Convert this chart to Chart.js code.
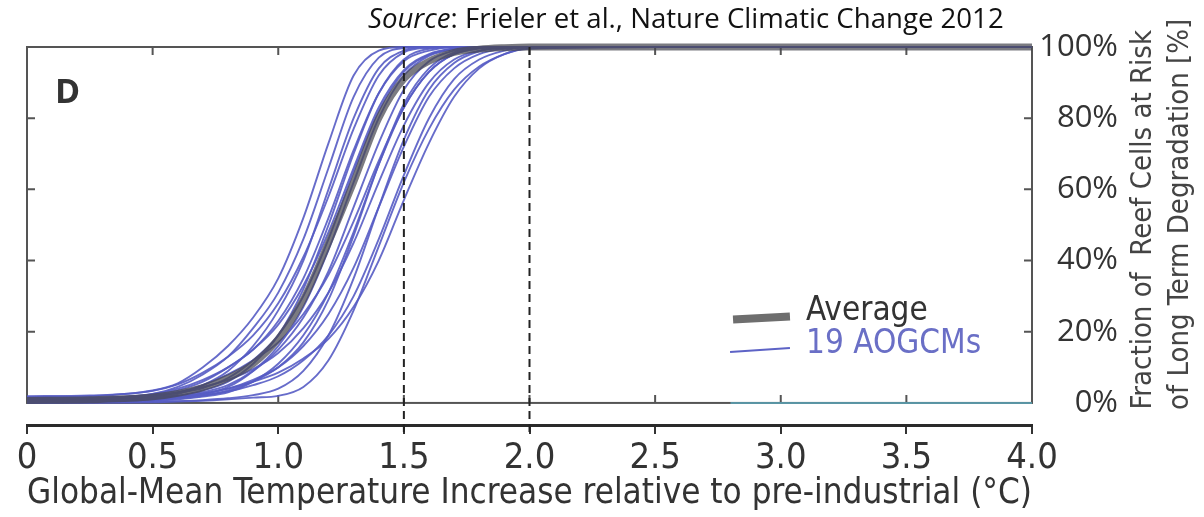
<!DOCTYPE html>
<html>
<head>
<meta charset="utf-8">
<script src="https://cdn.jsdelivr.net/npm/chart.js@4.4.1/dist/chart.umd.min.js"></script>
<style>
  body { margin: 0; background: #fff; }
  #wrap { position: relative; width: 1204px; height: 517px; overflow: hidden; }
  canvas { position: absolute; left: 0; top: 0; }
  .txt { position: absolute; white-space: nowrap; }
  #source { left: 368px; top: 0px; font: 27.6px "Open Sans", sans-serif; color: #111; line-height: 34px; }
  #panel { left: 55px; top: 67px; font: bold 34px "Open Sans", sans-serif; color: #333; }
  #ytitle { left: 970px; top: 183px; width: 380px; height: 74px; transform: rotate(-90deg);
            text-align: right; font: 29px "DejaVu Sans Condensed", sans-serif;
            color: #444; line-height: 37px; }
  #legAvgText { left: 806px; top: 291px; font: 33px "DejaVu Sans Condensed", sans-serif; color: #333; line-height: 36px; }
  #legGcmText { left: 806px; top: 324px; font: 33px "DejaVu Sans Condensed", sans-serif; color: #6a6fc6; line-height: 36px; }
  .swatch { position: absolute; }
  #legAvgLine { left: 733px; top: 314px; width: 57px; height: 8px; background: #6e6e6e; transform: rotate(-3deg); }
  #legGcmLine { left: 730px; top: 349px; width: 60px; height: 2px; background: #5d63c6; transform: rotate(-4deg); }
</style>
</head>
<body>
<div id="wrap">
  <canvas id="chart" width="1204" height="517"></canvas>
  <div class="txt" id="source"><i>Source</i>: Frieler et al., Nature Climatic Change 2012</div>
  <div class="txt" id="panel">D</div>
  <div class="txt" id="ytitle">Fraction of&nbsp; Reef Cells at Risk<br>of Long Term Degradation [%]</div>
  <div class="swatch" id="legAvgLine"></div>
  <div class="swatch" id="legGcmLine"></div>
  <div class="txt" id="legAvgText">Average</div>
  <div class="txt" id="legGcmText">19 AOGCMs</div>
</div>
<script>
// temperature grid (deg C) the curves are sampled on
var xTemps = [0, 0.25, 0.5, 0.6, 0.7, 0.8, 0.9, 1.0, 1.1, 1.2, 1.3, 1.4, 1.5, 1.6, 1.7, 1.8, 1.9, 2.0, 2.5, 3.0, 4.0];

// fraction of reef cells at risk (%), one array per AOGCM
var gcm01 = [1.6, 1.9, 3.5, 5.5, 10, 16, 24, 35, 52, 73, 92, 99, 100, 100, 100, 100, 100, 100, 100, 100, 100];
var gcm02 = [0.5, 1, 2.5, 4.5, 8, 13, 21, 31, 46, 66, 86, 97, 99.7, 100, 100, 100, 100, 100, 100, 100, 100];
var gcm03 = [1.9, 2.1, 3.4, 5.2, 8.5, 13, 19, 28, 41, 58, 77, 92, 98.5, 99.8, 100, 100, 100, 100, 100, 100, 100];
var gcm04 = [0.3, 0.6, 1.5, 2.5, 5, 9, 16, 26, 40, 60, 80, 94, 99, 100, 100, 100, 100, 100, 100, 100, 100];
var gcm05 = [1.2, 1.4, 2.3, 3.6, 6, 10, 15, 23, 35, 52, 71, 87, 96, 99, 100, 100, 100, 100, 100, 100, 100];
var gcm06 = [0.2, 0.4, 1.2, 2, 3.5, 6, 11, 19, 32, 50, 70, 87, 96.5, 99.5, 100, 100, 100, 100, 100, 100, 100];
var gcm07 = [0.8, 1.1, 2.5, 4, 6.5, 10, 15, 22, 33, 48, 66, 83, 93.5, 98, 99.6, 100, 100, 100, 100, 100, 100];
var gcm08 = [1.4, 1.5, 2, 2.8, 4.2, 7, 12, 19, 30, 46, 65, 82, 93, 97.8, 99.5, 100, 100, 100, 100, 100, 100];
var gcm09 = [0.1, 0.3, 0.8, 1.5, 2.5, 4.5, 9, 16, 27, 43, 62, 80, 92, 97.5, 99.4, 100, 100, 100, 100, 100, 100];
var gcm10 = [0.5, 0.8, 1.8, 3, 5, 8, 12, 17, 25, 36, 51, 68, 83, 93, 98, 99.6, 100, 100, 100, 100, 100];
var gcm11 = [0.9, 1, 1.4, 2, 3, 5, 9, 15, 24, 37, 55, 73, 88, 96, 99, 100, 100, 100, 100, 100, 100];
var gcm12 = [0.7, 1, 2, 3, 4.5, 6.5, 9.5, 14, 21, 31, 45, 62, 78, 90, 96.5, 99, 99.8, 100, 100, 100, 100];
var gcm13 = [0.1, 0.2, 0.6, 1, 1.8, 3, 6, 11, 19, 31, 48, 67, 83, 93, 98, 99.6, 100, 100, 100, 100, 100];
var gcm14 = [0.3, 0.5, 1, 1.6, 2.5, 4, 6.5, 10, 16, 25, 38, 55, 72, 86, 94, 98, 99.5, 100, 100, 100, 100];
var gcm15 = [0, 0.1, 0.3, 0.5, 0.8, 1.3, 2.2, 4, 9, 19, 35, 55, 74, 88, 95.5, 98.8, 99.8, 100, 100, 100, 100];
var gcm16 = [1.1, 1.1, 1.3, 1.6, 2.2, 3.2, 5, 7.5, 12, 19, 30, 46, 64, 80, 91, 96.5, 99, 100, 100, 100, 100];
var gcm17 = [0, 0.1, 0.2, 0.4, 0.6, 1, 1.5, 2, 4.5, 12, 26, 44, 62, 77, 88, 94.5, 98, 99.7, 100, 100, 100];
var gcm18 = [0.4, 0.6, 1.2, 1.8, 2.7, 4, 6, 8.5, 12.5, 18, 27, 40, 57, 73, 86, 94, 98, 99.5, 100, 100, 100];
var gcm19 = [0.1, 0.3, 0.7, 1.2, 2, 3.5, 6, 10, 17, 29, 47, 67, 84, 94, 98.5, 99.7, 100, 100, 100, 100, 100];
var average = [0.7, 0.9, 1.7, 2.7, 4.3, 7, 11, 18, 29, 45, 62, 80, 91, 96, 98.5, 99.4, 99.8, 100, 100, 100, 100];

// the thin line lying on the 0% edge at the right
var baseX = [2.8, 4.0];
var baseY = [0, 0];

var xTickVals = [0, 0.5, 1.0, 1.5, 2.0, 2.5, 3.0, 3.5, 4.0];
var yTickVals = [0, 20, 40, 60, 80, 100];
var refLines = [1.5, 2.0];

var gcms = [gcm01, gcm02, gcm03, gcm04, gcm05, gcm06, gcm07, gcm08, gcm09, gcm10,
            gcm11, gcm12, gcm13, gcm14, gcm15, gcm16, gcm17, gcm18, gcm19];

function pts(xs, ys) {
  return xs.map(function (x, i) { return { x: x, y: ys[i] }; });
}

var narrow = "'DejaVu Sans Condensed', sans-serif";

var datasets = gcms.map(function (g, i) {
  return {
    label: "AOGCM " + (i + 1),
    data: pts(xTemps, g),
    borderColor: "rgba(86, 92, 196, 0.9)",
    borderWidth: 1.9,
    order: 1
  };
});
datasets.push({
  label: "Average",
  data: pts(xTemps, average),
  borderColor: "rgba(72, 72, 80, 0.72)",
  borderWidth: 7,
  order: 0
});
datasets.push({
  label: "base",
  data: pts(baseX, baseY),
  borderColor: "#5aa8bc",
  borderWidth: 1.5,
  cubicInterpolationMode: "default",
  tension: 0,
  order: 2
});

// box round the plot with inward ticks, plus the dashed 1.5 / 2.0 lines
var frame = {
  id: "frame",
  beforeDatasetsDraw: function (chart) {
    var ctx = chart.ctx, x = chart.scales.x, y = chart.scales.y;
    var l = x.getPixelForValue(0), r = x.getPixelForValue(4);
    var t = y.getPixelForValue(100), b = y.getPixelForValue(0);
    ctx.save();
    ctx.strokeStyle = "#555";
    ctx.lineWidth = 2;
    ctx.strokeRect(l, t, r - l, b - t);
    ctx.beginPath();
    xTickVals.slice(1, -1).forEach(function (v) {
      var px = x.getPixelForValue(v);
      ctx.moveTo(px, t); ctx.lineTo(px, t + 8);
      ctx.moveTo(px, b); ctx.lineTo(px, b - 8);
    });
    yTickVals.slice(1, -1).forEach(function (v) {
      var py = y.getPixelForValue(v);
      ctx.moveTo(l, py); ctx.lineTo(l + 8, py);
      ctx.moveTo(r, py); ctx.lineTo(r - 8, py);
    });
    ctx.stroke();
    ctx.restore();
  },
  afterDatasetsDraw: function (chart) {
    var ctx = chart.ctx, x = chart.scales.x, y = chart.scales.y;
    ctx.save();
    ctx.strokeStyle = "#222";
    ctx.lineWidth = 2;
    ctx.setLineDash([8, 5]);
    refLines.forEach(function (v) {
      var px = x.getPixelForValue(v);
      ctx.beginPath();
      ctx.moveTo(px, y.getPixelForValue(100));
      ctx.lineTo(px, chart.chartArea.bottom + 7);
      ctx.stroke();
    });
    ctx.restore();
  }
};

new Chart(document.getElementById("chart"), {
  type: "line",
  data: { datasets: datasets },
  plugins: [frame],
  options: {
    responsive: false,
    animation: false,
    events: [],
    layout: { padding: { left: 27, top: 47, right: 86, bottom: 0 } },
    elements: {
      point: { radius: 0 },
      line: { cubicInterpolationMode: "monotone", fill: false }
    },
    datasets: { line: { clip: false } },
    plugins: { legend: { display: false }, tooltip: { enabled: false } },
    scales: {
      x: {
        type: "linear",
        position: "bottom",
        min: 0,
        max: 4,
        afterBuildTicks: function (s) { s.ticks = xTickVals.map(function (v) { return { value: v }; }); },
        afterFit: function (s) { s.height = 92; },
        grid: { drawOnChartArea: false, drawTicks: true, tickLength: 9, color: "#333", lineWidth: 2 },
        border: { display: true, color: "#2a2a2a", width: 3 },
        ticks: {
          autoSkip: false,
          maxRotation: 0,
          padding: 3,
          color: "#333",
          font: { family: narrow, size: 36 },
          callback: function (v) { return v === 0 ? "0" : v.toFixed(1); }
        },
        title: {
          display: true,
          text: "Global-Mean Temperature Increase relative to pre-industrial (\u00b0C)",
          color: "#333",
          font: { family: narrow, size: 36, lineHeight: 1.2 },
          padding: { top: 0, bottom: 2 }
        }
      },
      y: {
        type: "linear",
        position: "right",
        min: -6.2,
        max: 100,
        afterBuildTicks: function (s) { s.ticks = yTickVals.map(function (v) { return { value: v }; }); },
        afterFit: function (s) { s.width = 86; },
        grid: { display: false },
        border: { display: false },
        ticks: {
          crossAlign: "far",
          padding: 3,
          color: "#333",
          font: { family: "'Open Sans', sans-serif", size: 31 },
          callback: function (v) { return v + "%"; }
        }
      }
    }
  }
});
</script>
</body>
</html>
